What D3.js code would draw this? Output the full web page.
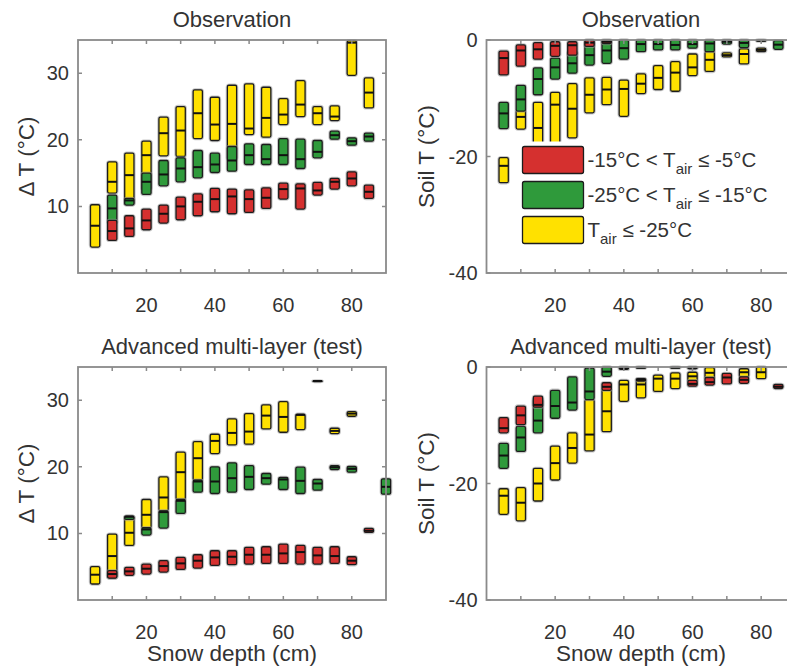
<!DOCTYPE html>
<html>
<head>
<meta charset="utf-8">
<script src="https://cdn.jsdelivr.net/npm/d3@7"></script>
<style>
  body { margin: 0; background: #fff; }
  svg text { font-family: "Liberation Sans", Arial, sans-serif; fill: #333; }
</style>
</head>
<body>
<svg id="chart" width="787" height="668"></svg>
<script>
// each row: [snow depth (cm), lower quartile, median, upper quartile]

// Observation, delta T
const obsDeltaYellow = [[5,3.9,7.1,10.25],[10,12.0,13.7,16.7],[15,10.3,14.7,18.0],[20,12.5,17.7,19.8],[25,17.6,21.0,23.4],
  [30,17.5,21.4,25.0],[35,20.2,24.0,27.5],[40,19.9,22.3,26.4],[45,17.0,22.4,28.2],[50,20.8,21.7,28.4],[55,20.4,23.3,27.9],
  [60,22.3,23.8,26.2],[65,23.5,25.3,28.9],[70,22.3,24.0,25.0],[75,22.9,23.5,25.1],[80,29.7,34.6,34.9],[85,24.8,27.1,29.3]];
const obsDeltaGreen = [[10,7.5,9.7,11.7],[15,10.2,10.9,11.2],[20,11.8,13.7,15.0],[25,13.1,14.8,16.9],[30,13.7,15.7,17.3],
  [35,14.3,15.9,18.4],[40,15.1,16.3,18.0],[45,15.3,16.9,19.0],[50,16.3,17.7,19.4],[55,16.3,17.1,19.3],[60,16.3,17.7,20.2],
  [65,15.7,17.1,20.1],[70,17.3,18.2,19.9],[75,20.1,20.7,21.3],[80,19.2,19.8,20.3],[85,19.8,20.5,21.0]];
const obsDeltaRed = [[10,4.9,6.3,7.9],[15,5.5,6.7,8.6],[20,6.5,7.9,9.6],[25,7.5,8.9,10.2],[30,8.0,10.0,11.4],
  [35,8.6,10.7,11.9],[40,9.2,11.1,12.7],[45,8.9,11.5,12.6],[50,9.1,11.1,12.5],[55,9.7,11.3,12.8],[60,11.1,12.6,13.5],
  [65,9.6,12.7,13.4],[70,11.7,12.4,13.6],[75,12.6,13.7,14.2],[80,13.1,14.2,15.2],[85,11.2,12.2,13.2]];

// Observation, soil T
const obsSoilYellow = [[5,-24.5,-21.6,-20.2],[10,-15.3,-13.2,-12.0],[15,-20,-15.1,-10.7],[20,-20,-11.1,-9.0],[25,-16.8,-11.8,-7.5],
  [30,-12.5,-9.4,-6.5],[35,-11.1,-8.5,-6.4],[40,-13.1,-8.4,-6.9],[45,-9.2,-7.5,-5.8],[50,-8.5,-6.5,-4.4],[55,-8.8,-5.6,-3.7],
  [60,-6.1,-4.7,-2.4],[65,-5.4,-3.4,-2.0],[70,-2.9,-2.6,-2.2],[75,-4.1,-2.4,-1.5],[80,-2.0,-1.7,-1.4]];
const obsSoilGreen = [[5,-15.2,-12.6,-10.7],[10,-12.2,-10.2,-7.8],[15,-9.4,-6.7,-4.8],[20,-6.7,-4.7,-3.1],[25,-5.7,-4.0,-2.0],
  [30,-4.3,-2.6,-0.3],[35,-4.0,-1.8,-0.1],[40,-3.3,-1.4,0],[45,-2.0,-0.7,0],[50,-1.7,-0.7,0],[55,-1.7,-0.85,0],
  [60,-1.4,-0.7,0],[65,-2.0,-0.6,0],[70,-0.7,-0.3,0],[75,-1.3,-0.5,0],[80,-0.2,-0.1,0],[85,-1.6,-0.8,-0.1]];
const obsSoilRed = [[5,-6.0,-3.1,-1.9],[10,-4.5,-1.8,-0.85],[15,-3.3,-1.6,-0.45],[20,-2.8,-1.0,-0.3],[25,-2.6,-0.9,-0.3],
  [30,-1.1,-0.45,0],[35,-0.6,-0.3,0]];

// Advanced multi-layer (test), delta T
const modDeltaYellow = [[5,2.4,3.8,5.0],[10,3.3,6.6,9.9],[15,8.2,10.1,12.6],[20,10.8,12.8,15.1],[25,13.4,15.4,18.5],
  [30,15.1,19.2,22.2],[35,18.0,21.3,23.8],[40,22.0,23.9,24.9],[45,23.3,25.1,27.2],[50,23.4,25.3,28.0],[55,25.7,27.7,29.3],
  [60,25.2,27.5,29.8],[65,25.6,27.8,27.9],[70,32.9,32.9,32.9],[75,25.0,25.4,25.8],[80,27.6,28.0,28.3]];
const modDeltaGreen = [[15,12.1,12.5,12.6],[20,9.75,10.6,10.85],[25,10.8,13.2,13.4],[30,13.0,14.9,15.1],[35,16.2,17.8,18.0],
  [40,16.0,17.8,20.0],[45,16.2,18.3,20.6],[50,16.6,18.5,20.2],[55,17.4,18.3,19.0],[60,16.6,18.1,18.4],[65,16.0,17.9,19.95],
  [70,16.5,17.5,18.1],[75,19.6,19.95,20.2],[80,19.2,19.7,20.05],[90,15.9,17.0,18.2]];
const modDeltaRed = [[10,3.3,3.9,4.4],[15,3.7,4.3,4.9],[20,3.9,4.7,5.4],[25,4.2,5.1,5.9],[30,4.6,5.5,6.4],
  [35,4.8,5.9,6.8],[40,5.2,6.4,7.4],[45,5.3,6.5,7.4],[50,5.4,6.8,7.9],[55,5.5,6.8,8.0],[60,5.5,7.0,8.4],
  [65,5.4,7.2,8.2],[70,5.4,6.7,7.9],[75,5.5,6.6,8.0],[80,5.3,5.9,6.5],[85,10.15,10.4,10.75]];

// Advanced multi-layer (test), soil T
const modSoilYellow = [[5,-25.3,-22.1,-20.9],[10,-26.4,-23.3,-20.7],[15,-23.0,-20.0,-17.4],[20,-19.4,-16.5,-13.6],
  [25,-16.5,-13.9,-11.3],[30,-14.4,-11.6,-5.6],[35,-11.1,-7.6,-3.8],[40,-5.9,-3.0,-2.3],[45,-5.3,-3.0,-2.0],
  [50,-4.2,-2.0,-1.4],[55,-3.7,-2.0,-1.0],[60,-2.5,-1.6,-0.9],[65,-2.0,-1.0,-0.1],[75,-1.7,-0.9,-0.3],[80,-2.0,-0.9,0]];
const modSoilGreen = [[5,-17.4,-15.2,-13.1],[10,-14.5,-12.1,-10.2],[15,-11.3,-9.2,-5.5],[20,-8.8,-6.7,-4.0],
  [25,-7.4,-6.1,-1.7],[30,-5.6,-4.2,-0.2],[35,-1.6,-0.8,0],[40,-0.4,-0.2,0],[45,-0.2,-0.1,0],[55,-0.2,-0.1,0],[60,-0.3,-0.1,0]];
const modSoilRed = [[5,-11.3,-10.5,-8.7],[10,-9.9,-8.3,-6.7],[15,-6.9,-6.5,-5.0],[35,-4.0,-3.4,-2.7],[45,-2.4,-2.2,-2.0],
  [60,-3.3,-2.9,-2.3],[65,-3.1,-2.6,-1.8],[70,-2.9,-1.8,-1.1],[75,-2.8,-2.2,-1.7],[85,-3.7,-3.4,-3.0]];

const classColors = { red: "#d5302f", green: "#2f9a3b", yellow: "#ffe100" };
const legendLabels = [
  { key: "red", pre: "-15°C < T", sub: "air", post: " ≤ -5°C" },
  { key: "green", pre: "-25°C < T", sub: "air", post: " ≤ -15°C" },
  { key: "yellow", pre: "T", sub: "air", post: " ≤ -25°C" }
];
const xTickVals = [10, 20, 30, 40, 50, 60, 70, 80];
const xTickLabels = [20, 40, 60, 80];
const deltaTicks = [10, 20, 30];
const soilTicks = [0, -20, -40];

class BoxPanel {
  constructor(_config, _data) {
    this.config = _config;
    this.data = _data;
    this.initVis();
  }

  initVis() {
    let vis = this;
    let c = vis.config;

    vis.x = d3.scaleLinear().domain([0, 90]).range([c.left, c.right]);
    vis.y = d3.scaleLinear().domain(c.yDomain).range([c.bottom, c.top]);
    vis.halfW = 1.35; // half bar width in cm

    vis.g = d3.select('#chart').append('g');
    vis.marks = vis.g.append('g');
    vis.axes = vis.g.append('g');

    // title
    vis.g.append('text')
      .attr('x', (c.left + c.right) / 2)
      .attr('y', c.top - 13)
      .attr('text-anchor', 'middle')
      .style('font-size', '22px')
      .text(c.title);

    // y label
    vis.g.append('text')
      .attr('transform', `translate(${c.yLabelX},${(c.top + c.bottom) / 2}) rotate(-90)`)
      .attr('text-anchor', 'middle')
      .attr('dy', '0.35em')
      .style('font-size', '22.5px')
      .text(c.yLabel);

    // x label (bottom row only)
    if (c.xLabel) {
      vis.g.append('text')
        .attr('x', (c.left + c.right) / 2)
        .attr('y', c.bottom + 61)
        .attr('text-anchor', 'middle')
        .style('font-size', '22.5px')
        .text(c.xLabel);
    }

    vis.renderVis();
    vis.drawAxes();
    if (c.legend) vis.drawLegend();
  }

  renderVis() {
    let vis = this;
    let bw = vis.x(2 * vis.halfW) - vis.x(0);

    // yellow first, green, red on top
    vis.data.forEach(series => {
      let grp = vis.marks.append('g');
      // soft grey halo round each box
      grp.selectAll('.halo')
        .data(series.rows)
        .join('rect')
        .attr('class', 'halo')
        .attr('x', d => vis.x(d[0] - vis.halfW))
        .attr('y', d => vis.y(d[3]))
        .attr('width', bw)
        .attr('height', d => Math.max(vis.y(d[1]) - vis.y(d[3]), 0.5))
        .attr('rx', 2)
        .attr('fill', 'none')
        .attr('stroke', '#999')
        .attr('stroke-opacity', 0.55)
        .attr('stroke-width', 3.4);

      grp.selectAll('.box')
        .data(series.rows)
        .join('rect')
        .attr('class', 'box')
        .attr('x', d => vis.x(d[0] - vis.halfW))
        .attr('y', d => vis.y(d[3]))
        .attr('width', bw)
        .attr('height', d => Math.max(vis.y(d[1]) - vis.y(d[3]), 0.5))
        .attr('rx', 1.5)
        .attr('fill', classColors[series.key])
        .attr('stroke', '#1c1c1c')
        .attr('stroke-width', 1.3);

      grp.selectAll('.med')
        .data(series.rows)
        .join('line')
        .attr('class', 'med')
        .attr('x1', d => vis.x(d[0] - vis.halfW))
        .attr('x2', d => vis.x(d[0] + vis.halfW))
        .attr('y1', d => vis.y(d[2]))
        .attr('y2', d => vis.y(d[2]))
        .attr('stroke', '#111')
        .attr('stroke-width', 2);
    });
  }

  drawAxes() {
    let vis = this;
    let c = vis.config;
    let axisColor = '#8a8a8a';
    let tl = 4;

    vis.axes.append('rect')
      .attr('x', c.left).attr('y', c.top)
      .attr('width', c.right - c.left).attr('height', c.bottom - c.top)
      .attr('fill', 'none')
      .attr('stroke', axisColor)
      .attr('stroke-width', 1.8);

    // x ticks inside, bottom and top
    vis.axes.selectAll('.xt')
      .data(xTickVals)
      .join('path')
      .attr('class', 'xt')
      .attr('d', d => `M${vis.x(d)},${c.bottom}v${-tl}M${vis.x(d)},${c.top}v${tl}`)
      .attr('stroke', axisColor)
      .attr('stroke-width', 1.5);

    vis.axes.selectAll('.xl')
      .data(xTickLabels)
      .join('text')
      .attr('class', 'xl')
      .attr('x', d => vis.x(d))
      .attr('y', c.bottom + 39)
      .attr('text-anchor', 'middle')
      .style('font-size', '20px')
      .text(d => d);

    // y ticks inside, left and right
    vis.axes.selectAll('.yt')
      .data(c.yTicks)
      .join('path')
      .attr('class', 'yt')
      .attr('d', d => `M${c.left},${vis.y(d)}h${tl}M${c.right},${vis.y(d)}h${-tl}`)
      .attr('stroke', axisColor)
      .attr('stroke-width', 1.5);

    vis.axes.selectAll('.yl')
      .data(c.yTicks)
      .join('text')
      .attr('class', 'yl')
      .attr('x', c.left - 9)
      .attr('y', d => vis.y(d))
      .attr('dy', '0.35em')
      .attr('text-anchor', 'end')
      .style('font-size', '20px')
      .text(d => d);
  }

  drawLegend() {
    let vis = this;
    let lg = vis.g.append('g');
    let lx = 522.5, ly = 146.5, pw = 61, ph = 27, step = 35;

    lg.append('rect')
      .attr('x', lx - 8).attr('y', ly - 5)
      .attr('width', 262).attr('height', step * 2 + ph + 10)
      .attr('fill', '#fff');

    lg.selectAll('.lpatch')
      .data(legendLabels)
      .join('rect')
      .attr('class', 'lpatch')
      .attr('x', lx)
      .attr('y', (d, i) => ly + step * i)
      .attr('width', pw).attr('height', ph)
      .attr('rx', 2)
      .attr('fill', d => classColors[d.key])
      .attr('stroke', '#1c1c1c')
      .attr('stroke-width', 1.3);

    let txt = lg.selectAll('.ltext')
      .data(legendLabels)
      .join('text')
      .attr('class', 'ltext')
      .attr('x', lx + pw + 4)
      .attr('y', (d, i) => ly + step * i + ph / 2 + 7)
      .style('font-size', '20.5px');
    txt.append('tspan').text(d => d.pre);
    txt.append('tspan').attr('dy', 7).style('font-size', '15px').text(d => d.sub);
    txt.append('tspan').attr('dy', -7).text(d => d.post);
  }
}

let topY = [40, 273], botY = [367, 600];
let leftX = [78, 386], rightX = [486.5, 795.5];

new BoxPanel({ left: leftX[0], right: leftX[1], top: topY[0], bottom: topY[1], yDomain: [0, 35], yTicks: deltaTicks,
  title: 'Observation', yLabel: 'Δ T (°C)', yLabelX: 26 },
  [{ key: 'yellow', rows: obsDeltaYellow }, { key: 'green', rows: obsDeltaGreen }, { key: 'red', rows: obsDeltaRed }]);

new BoxPanel({ left: rightX[0], right: rightX[1], top: topY[0], bottom: topY[1], yDomain: [-40, 0], yTicks: soilTicks,
  title: 'Observation', yLabel: 'Soil T (°C)', yLabelX: 426, legend: true },
  [{ key: 'yellow', rows: obsSoilYellow }, { key: 'green', rows: obsSoilGreen }, { key: 'red', rows: obsSoilRed }]);

new BoxPanel({ left: leftX[0], right: leftX[1], top: botY[0], bottom: botY[1], yDomain: [0, 35], yTicks: deltaTicks,
  title: 'Advanced multi-layer (test)', yLabel: 'Δ T (°C)', yLabelX: 26, xLabel: 'Snow depth (cm)' },
  [{ key: 'yellow', rows: modDeltaYellow }, { key: 'green', rows: modDeltaGreen }, { key: 'red', rows: modDeltaRed }]);

new BoxPanel({ left: rightX[0], right: rightX[1], top: botY[0], bottom: botY[1], yDomain: [-40, 0], yTicks: soilTicks,
  title: 'Advanced multi-layer (test)', yLabel: 'Soil T (°C)', yLabelX: 426, xLabel: 'Snow depth (cm)' },
  [{ key: 'yellow', rows: modSoilYellow }, { key: 'green', rows: modSoilGreen }, { key: 'red', rows: modSoilRed }]);
</script>
</body>
</html>
